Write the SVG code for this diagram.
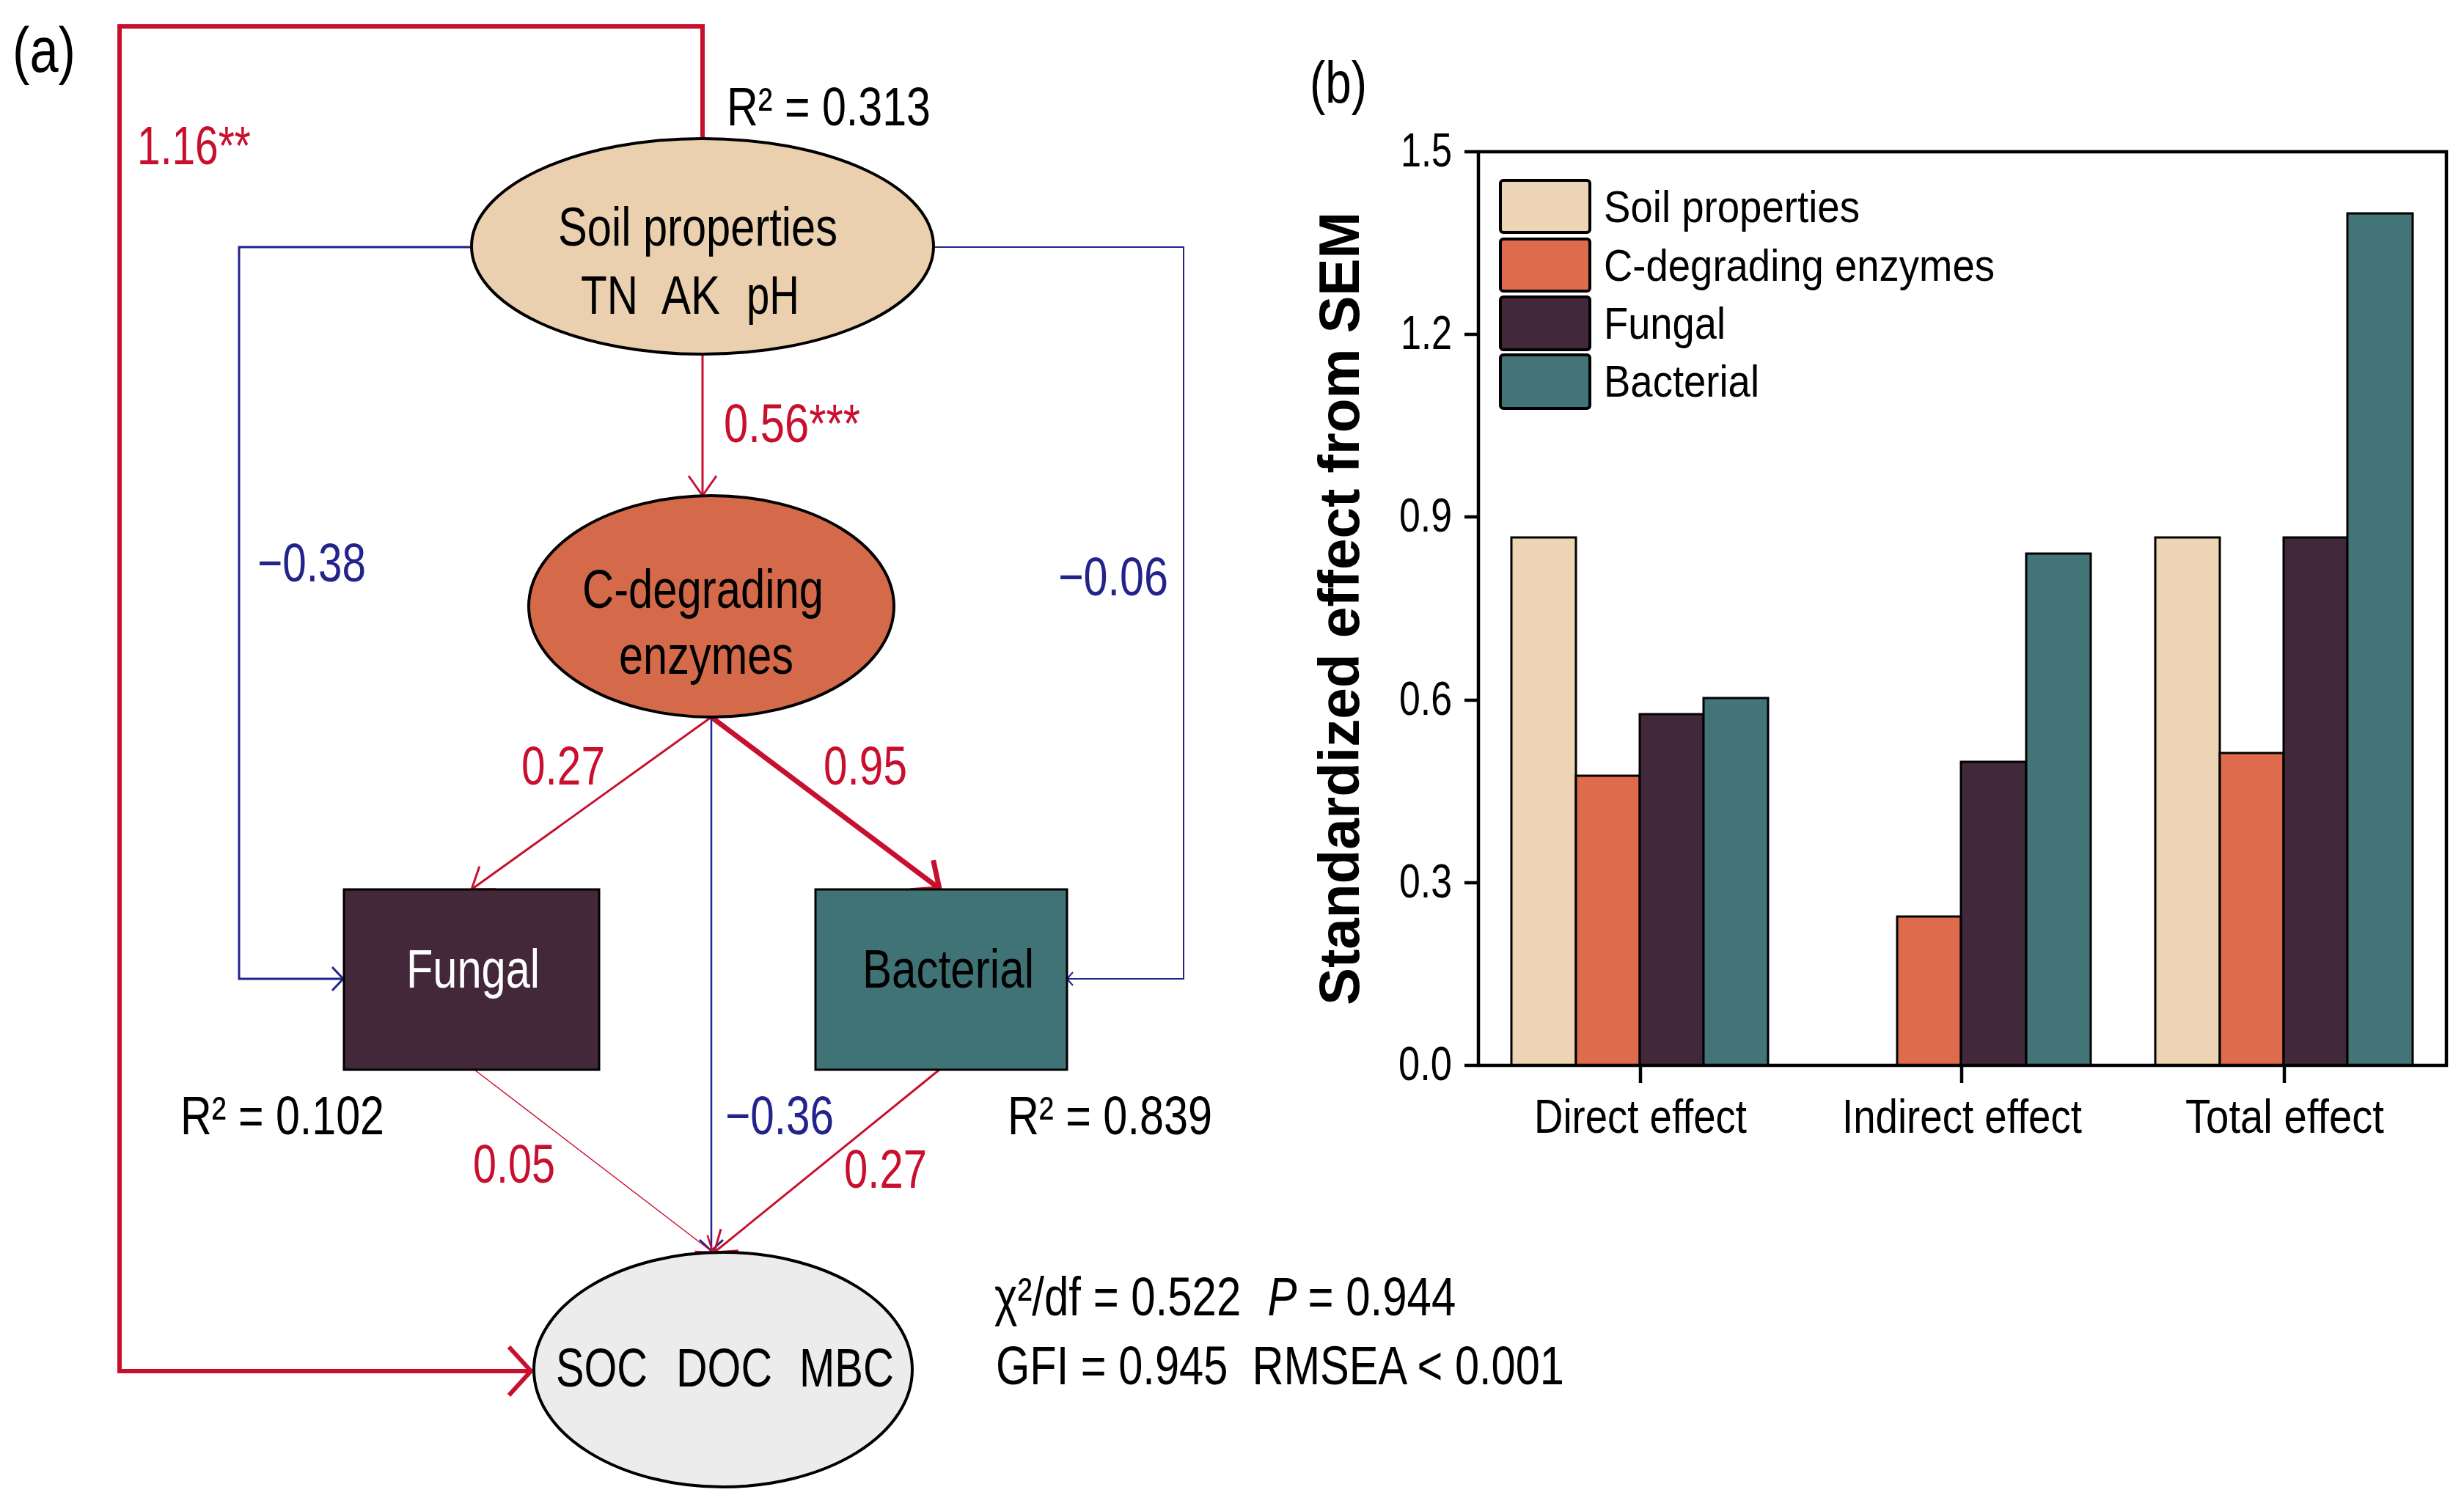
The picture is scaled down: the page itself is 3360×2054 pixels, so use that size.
<svg xmlns="http://www.w3.org/2000/svg" width="3360" height="2054" viewBox="0 0 3360 2054">
<style>
text{font-family:"Liberation Sans Narrow","Liberation Sans",Arial,sans-serif;fill:#000}
.lab{font-size:74px}
.red{fill:#c8102e}
.blue{fill:#23238c}
.tick{font-size:64px;text-anchor:end}
.leg{font-size:62px}
.xl{font-size:64px}
.node{stroke:#000;stroke-width:4}
.bar{stroke:#000;stroke-width:3}
.cr{fill:none;stroke:#c8102e}
.cb{fill:none;stroke:#23238c}
.ax{stroke:#000;stroke-width:4.5;fill:none}
.sc{font-family:"Liberation Sans",Arial,sans-serif;font-size:74px}
</style>
<defs>
<marker id="mRed" markerUnits="userSpaceOnUse" markerWidth="80" markerHeight="80" refX="0" refY="0" orient="auto" overflow="visible"><path d="M-27,-19 L0,0 L-27,19" fill="none" stroke="#c8102e" stroke-width="3"/></marker>
<marker id="mRedThin" markerUnits="userSpaceOnUse" markerWidth="80" markerHeight="80" refX="0" refY="0" orient="auto" overflow="visible"><path d="M-20,-14 L0,0 L-20,14" fill="none" stroke="#c8102e" stroke-width="2.5"/></marker>
<marker id="mRedThick" markerUnits="userSpaceOnUse" markerWidth="80" markerHeight="80" refX="0" refY="0" orient="auto" overflow="visible"><path d="M-30,-26 L0,0 L-30,26" fill="none" stroke="#c8102e" stroke-width="7"/></marker>
<marker id="mRedLoop" markerUnits="userSpaceOnUse" markerWidth="80" markerHeight="80" refX="0" refY="0" orient="auto" overflow="visible"><path d="M-30,-33 L0,0 L-30,33" fill="none" stroke="#c8102e" stroke-width="6"/></marker>
<marker id="mBlue" markerUnits="userSpaceOnUse" markerWidth="80" markerHeight="80" refX="0" refY="0" orient="auto" overflow="visible"><path d="M-15,-16 L0,0 L-15,16" fill="none" stroke="#23238c" stroke-width="3"/></marker>
<marker id="mBlueSmall" markerUnits="userSpaceOnUse" markerWidth="80" markerHeight="80" refX="0" refY="0" orient="auto" overflow="visible"><path d="M-8,-9 L0,0 L-8,9" fill="none" stroke="#23238c" stroke-width="2"/></marker>
</defs>
<rect width="3360" height="2054" fill="#fff"/>

<!-- Panel (a) -->
<text x="17" y="98" style="font-size:88px" textLength="86" lengthAdjust="spacingAndGlyphs">(a)</text>

<g id="connectors">
  <path class="cr" stroke-width="6" d="M958,189 V36 H163 V1870 H724" marker-end="url(#mRedLoop)"/>
  <path class="cr" stroke-width="3" d="M958,484 V676" marker-end="url(#mRed)"/>
  <path class="cb" stroke-width="3" d="M642,337 H326 V1335 H468" marker-end="url(#mBlue)"/>
  <path class="cb" stroke-width="2" d="M1273,337 H1614 V1335 H1455" marker-end="url(#mBlueSmall)"/>
  <path class="cr" stroke-width="3" d="M970,978 L643,1213" marker-end="url(#mRed)"/>
  <path class="cr" stroke-width="7" d="M970,978 L1281,1212" marker-end="url(#mRedThick)"/>
  <path class="cb" stroke-width="2.5" d="M970,978 V1706" marker-end="url(#mBlue)"/>
  <path class="cr" stroke-width="1.5" d="M647,1459 L972,1708" marker-end="url(#mRedThin)"/>
  <path class="cr" stroke-width="3" d="M1281,1459 L974,1708" marker-end="url(#mRed)"/>
</g>

<g id="soil">
  <ellipse class="node" cx="958" cy="336" rx="315" ry="147" fill="#ebd0b0"/>
  <text class="lab" x="761" y="335" textLength="381" lengthAdjust="spacingAndGlyphs">Soil properties</text>
  <text class="lab" x="792" y="428" textLength="78" lengthAdjust="spacingAndGlyphs">TN</text>
  <text class="lab" x="902" y="428" textLength="80" lengthAdjust="spacingAndGlyphs">AK</text>
  <text class="lab" x="1018" y="428" textLength="72" lengthAdjust="spacingAndGlyphs">pH</text>
</g>
<g id="enzymes">
  <ellipse class="node" cx="970" cy="827" rx="249" ry="151" fill="#d46a4a"/>
  <text class="lab" x="794" y="829" textLength="329" lengthAdjust="spacingAndGlyphs">C-degrading</text>
  <text class="lab" x="844" y="919" textLength="238" lengthAdjust="spacingAndGlyphs">enzymes</text>
</g>
<g id="fungal">
  <rect x="469" y="1213" width="348" height="246" fill="#43283a" stroke="#000" stroke-width="3"/>
  <text class="lab" x="554" y="1347" style="fill:#fff" textLength="182" lengthAdjust="spacingAndGlyphs">Fungal</text>
</g>
<g id="bacterial">
  <rect x="1112" y="1213" width="343" height="246" fill="#3f7375" stroke="#000" stroke-width="3"/>
  <text class="lab" x="1176" y="1347" textLength="234" lengthAdjust="spacingAndGlyphs">Bacterial</text>
</g>
<g id="soc">
  <ellipse class="node" cx="986" cy="1868" rx="258" ry="160" fill="#ececec" stroke-width="3.5"/>
  <text class="lab" x="758" y="1891" textLength="125" lengthAdjust="spacingAndGlyphs">SOC</text>
  <text class="lab" x="922" y="1891" textLength="131" lengthAdjust="spacingAndGlyphs">DOC</text>
  <text class="lab" x="1090" y="1891" textLength="129" lengthAdjust="spacingAndGlyphs">MBC</text>
</g>

<g id="labels-a">
  <text class="lab" x="991" y="171" textLength="278" lengthAdjust="spacingAndGlyphs">R² = 0.313</text>
  <text class="lab red" x="187" y="224" textLength="155" lengthAdjust="spacingAndGlyphs">1.16**</text>
  <text class="lab red" x="987" y="603" textLength="186" lengthAdjust="spacingAndGlyphs">0.56***</text>
  <text class="lab blue" x="351" y="793" textLength="148" lengthAdjust="spacingAndGlyphs">−0.38</text>
  <text class="lab blue" x="1443" y="812" textLength="150" lengthAdjust="spacingAndGlyphs">−0.06</text>
  <text class="lab red" x="711" y="1070" textLength="114" lengthAdjust="spacingAndGlyphs">0.27</text>
  <text class="lab red" x="1123" y="1070" textLength="114" lengthAdjust="spacingAndGlyphs">0.95</text>
  <text class="lab" x="246" y="1547" textLength="278" lengthAdjust="spacingAndGlyphs">R² = 0.102</text>
  <text class="lab blue" x="989" y="1547" textLength="148" lengthAdjust="spacingAndGlyphs">−0.36</text>
  <text class="lab" x="1374" y="1547" textLength="279" lengthAdjust="spacingAndGlyphs">R² = 0.839</text>
  <text class="lab red" x="645" y="1613" textLength="112" lengthAdjust="spacingAndGlyphs">0.05</text>
  <text class="lab red" x="1151" y="1620" textLength="113" lengthAdjust="spacingAndGlyphs">0.27</text>
  <g transform="scale(0.81 1)">
    <text class="sc" x="1674" y="1794">χ²/df = 0.522</text>
    <text class="sc" x="2134" y="1794" style="font-style:italic">P</text>
    <text class="sc" x="2202" y="1794">= 0.944</text>
  </g>
  <text class="lab" x="1358" y="1888" xml:space="preserve" textLength="775" lengthAdjust="spacingAndGlyphs">GFI = 0.945  RMSEA &lt; 0.001</text>
</g>

<!-- Panel (b) -->
<text x="1786" y="140" style="font-size:80px" textLength="78" lengthAdjust="spacingAndGlyphs">(b)</text>
<g id="chart">
  <g id="bars">
    <rect class="bar" x="2061" y="733" width="88" height="720" fill="#edd4b4"/>
    <rect class="bar" x="2149" y="1058" width="87" height="395" fill="#df6b4d"/>
    <rect class="bar" x="2236" y="974" width="87" height="479" fill="#42283b"/>
    <rect class="bar" x="2323" y="952" width="88" height="501" fill="#437478"/>
    <rect class="bar" x="2587" y="1250" width="87" height="203" fill="#df6b4d"/>
    <rect class="bar" x="2674" y="1039" width="89" height="414" fill="#42283b"/>
    <rect class="bar" x="2763" y="755" width="88" height="698" fill="#437478"/>
    <rect class="bar" x="2939" y="733" width="88" height="720" fill="#edd4b4"/>
    <rect class="bar" x="3027" y="1027" width="87" height="426" fill="#df6b4d"/>
    <rect class="bar" x="3114" y="733" width="87" height="720" fill="#42283b"/>
    <rect class="bar" x="3201" y="291" width="89" height="1162" fill="#437478"/>
  </g>
  <path class="ax" d="M2016,207 H3336 V1453 H2016 Z"/>
  <path class="ax" d="M1997,207 H2016 M1997,456 H2016 M1997,705 H2016 M1997,955 H2016 M1997,1204 H2016 M1997,1453 H2016 M2237,1453 V1477 M2675,1453 V1477 M3115,1453 V1477"/>
  <text class="tick" x="1980" y="227" textLength="70" lengthAdjust="spacingAndGlyphs">1.5</text>
  <text class="tick" x="1980" y="476" textLength="70" lengthAdjust="spacingAndGlyphs">1.2</text>
  <text class="tick" x="1980" y="725" textLength="72" lengthAdjust="spacingAndGlyphs">0.9</text>
  <text class="tick" x="1980" y="975" textLength="72" lengthAdjust="spacingAndGlyphs">0.6</text>
  <text class="tick" x="1980" y="1224" textLength="72" lengthAdjust="spacingAndGlyphs">0.3</text>
  <text class="tick" x="1980" y="1473" textLength="73" lengthAdjust="spacingAndGlyphs">0.0</text>
  <text class="xl" x="2092" y="1545" textLength="290" lengthAdjust="spacingAndGlyphs">Direct effect</text>
  <text class="xl" x="2512" y="1545" textLength="327" lengthAdjust="spacingAndGlyphs">Indirect effect</text>
  <text class="xl" x="2980" y="1545" textLength="271" lengthAdjust="spacingAndGlyphs">Total effect</text>
  <text transform="translate(1853,830) rotate(-90)" style="font-size:78px;font-weight:bold;font-family:'Liberation Sans',Arial,sans-serif;text-anchor:middle" textLength="1082" lengthAdjust="spacingAndGlyphs">Standardized effect from SEM</text>
  <g id="legend">
    <rect x="2046" y="246" width="122" height="71" rx="4" fill="#edd4b4" stroke="#000" stroke-width="4"/>
    <rect x="2046" y="326" width="122" height="71" rx="4" fill="#df6b4d" stroke="#000" stroke-width="4"/>
    <rect x="2046" y="405" width="122" height="72" rx="4" fill="#42283b" stroke="#000" stroke-width="4"/>
    <rect x="2046" y="484" width="122" height="73" rx="4" fill="#437478" stroke="#000" stroke-width="4"/>
    <text class="leg" x="2187" y="303" textLength="349" lengthAdjust="spacingAndGlyphs">Soil properties</text>
    <text class="leg" x="2187" y="383" textLength="533" lengthAdjust="spacingAndGlyphs">C-degrading enzymes</text>
    <text class="leg" x="2187" y="462" textLength="166" lengthAdjust="spacingAndGlyphs">Fungal</text>
    <text class="leg" x="2187" y="541" textLength="212" lengthAdjust="spacingAndGlyphs">Bacterial</text>
  </g>
</g>
</svg>
